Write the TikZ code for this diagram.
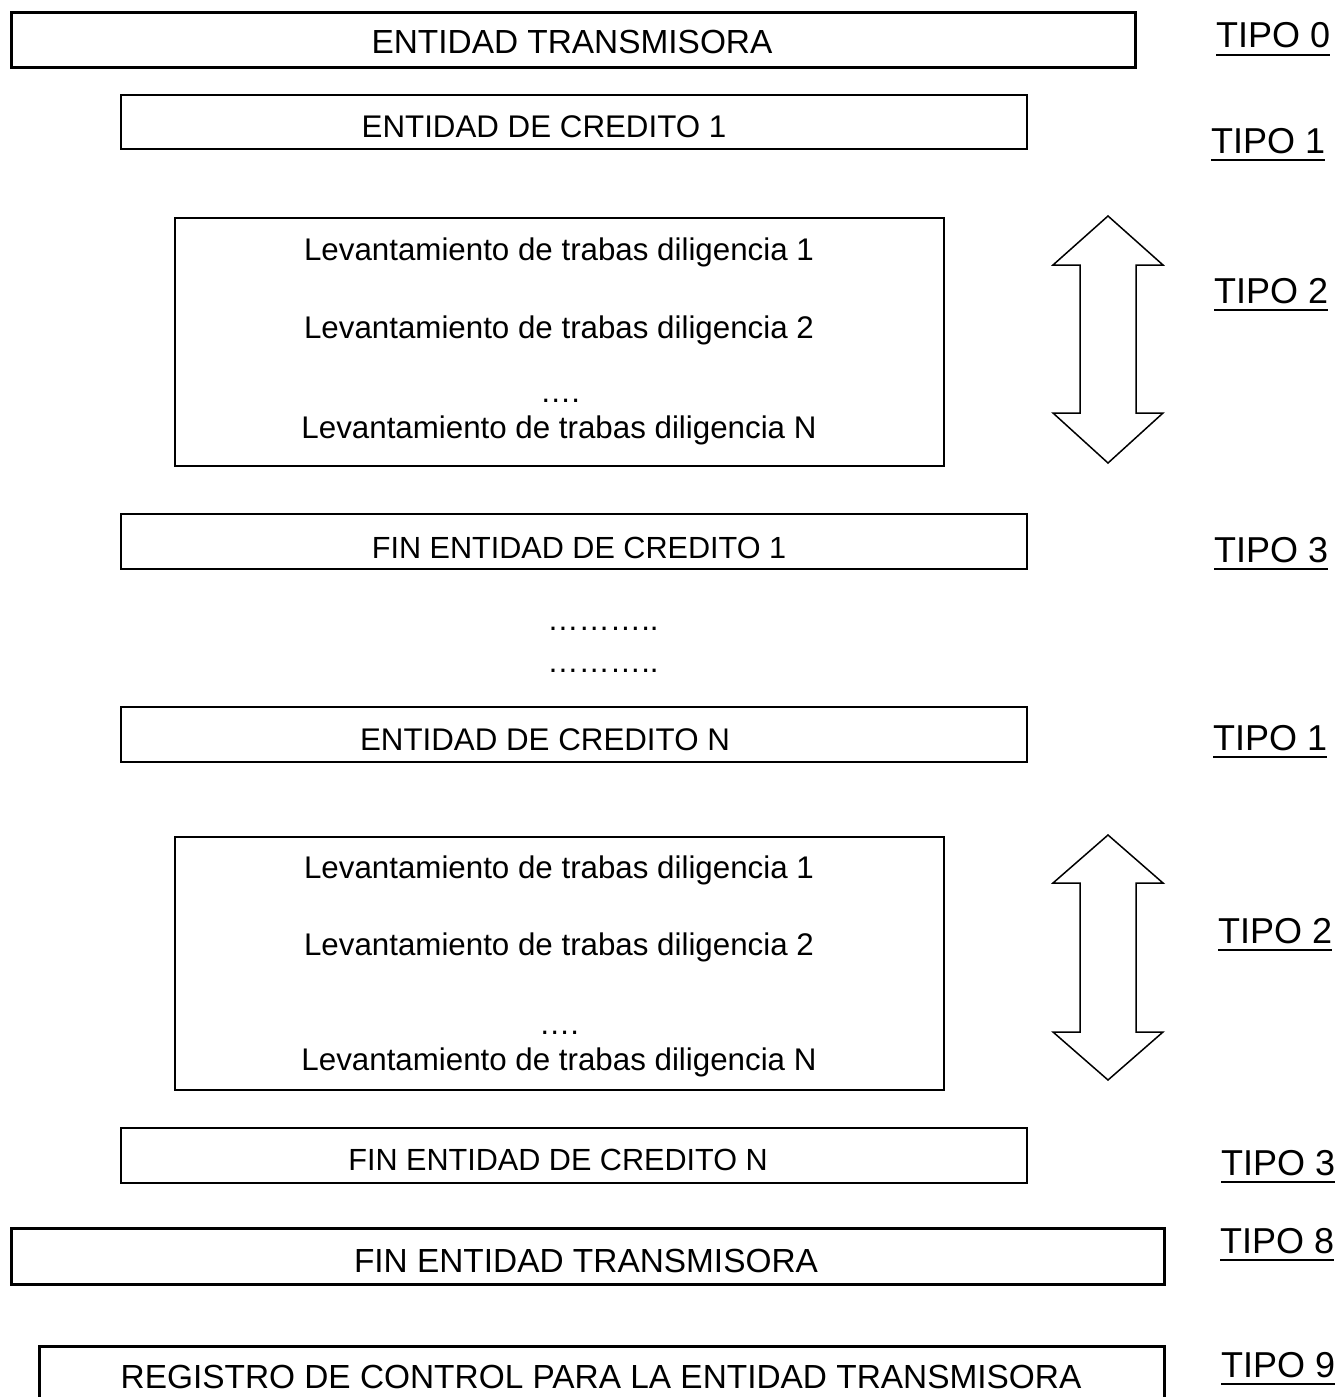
\documentclass[tikz,border=0pt]{standalone}
\usepackage{fontspec}
\setmainfont{Liberation Sans}
\begin{document}
\begin{tikzpicture}[x=1pt,y=-1pt,
  box/.style={draw, line width=2pt, inner sep=0pt, anchor=north west},
  thickbox/.style={box, line width=3pt},
  txtL/.style={font=\fontsize{33.4}{40}\selectfont, anchor=base, inner sep=0pt},
  txtM/.style={font=\fontsize{31.3}{37}\selectfont, anchor=base, inner sep=0pt},
  txtS/.style={font=\fontsize{30.6}{36}\selectfont, anchor=base, inner sep=0pt},
  tipo/.style={font=\fontsize{36}{42}\selectfont, anchor=base west, inner sep=0pt},
  uline/.style={line width=2.5pt},
  dblarrow/.style={draw, line width=1.5pt, line join=miter}]
\useasboundingbox (0,0) rectangle (1341,1397);

% boxes
\node[thickbox, minimum width=1124pt, minimum height=55pt] (b0) at (10,11) {};
\node[box, minimum width=906pt, minimum height=54pt] (b1) at (120,94) {};
\node[box, minimum width=769pt, minimum height=248pt] (lev1) at (174,217) {};
\node[box, minimum width=906pt, minimum height=55pt] (b3) at (120,513) {};
\node[box, minimum width=906pt, minimum height=55pt] (bN) at (120,706) {};
\node[box, minimum width=769pt, minimum height=253pt] (lev2) at (174,836) {};
\node[box, minimum width=906pt, minimum height=55pt] (b3N) at (120,1127) {};
\node[thickbox, minimum width=1153pt, minimum height=56pt] (b8) at (10,1227) {};
\node[thickbox, minimum width=1125pt, minimum height=80pt] (b9) at (38,1345) {};

% box texts
\node[txtL] (t0) at (572,53) {ENTIDAD TRANSMISORA};
\node[txtM] (t1) at (544,137) {ENTIDAD DE CREDITO 1};
\node[txtM] (l11) at (559,260) {Levantamiento de trabas diligencia 1};
\node[txtM] (l12) at (559,338) {Levantamiento de trabas diligencia 2};
\node[txtM] (l1d) at (560,402) {….};
\node[txtM] (l1N) at (559,438) {Levantamiento de trabas diligencia N};
\node[txtS] (t3) at (579,558) {FIN ENTIDAD DE CREDITO 1};
\node[txtM] (d1) at (603,630) {………..};
\node[txtM] (d2) at (603,672) {………..};
\node[txtM] (tN) at (545,750) {ENTIDAD DE CREDITO N};
\node[txtM] (l21) at (559,878) {Levantamiento de trabas diligencia 1};
\node[txtM] (l22) at (559,955) {Levantamiento de trabas diligencia 2};
\node[txtM] (l2d) at (559,1034) {….};
\node[txtM] (l2N) at (559,1070) {Levantamiento de trabas diligencia N};
\node[txtS] (t3N) at (558,1170) {FIN ENTIDAD DE CREDITO N};
\node[txtL] (t8) at (586,1272) {FIN ENTIDAD TRANSMISORA};
\node[txtL] (t9) at (601,1388) {REGISTRO DE CONTROL PARA LA ENTIDAD TRANSMISORA};

% double arrows
\draw[dblarrow] (1108,216) -- (1163,265) -- (1136,265) -- (1136,413) -- (1163,413)
  -- (1108,463) -- (1053,413) -- (1080,413) -- (1080,265) -- (1053,265) -- cycle;
\draw[dblarrow] (1108,835) -- (1163,883) -- (1136,883) -- (1136,1032) -- (1163,1032)
  -- (1108,1080) -- (1053,1032) -- (1080,1032) -- (1080,883) -- (1053,883) -- cycle;

% TIPO labels
\foreach \nm/\x/\y/\tx in {p0/1216/48/TIPO 0, p1/1211/153/TIPO 1, p2/1214/303/TIPO 2,
    p3/1214/562/TIPO 3, p4/1213/750/TIPO 1, p5/1218/943/TIPO 2, p6/1221/1175/TIPO 3,
    p7/1220/1253/TIPO 8, p8/1221/1377/TIPO 9} {
  \node[tipo] (\nm) at (\x,\y) {\tx};
  \draw[uline] ([yshift=-7pt]\nm.base west) -- ([yshift=-7pt]\nm.base east);
}
\end{tikzpicture}
\end{document}
